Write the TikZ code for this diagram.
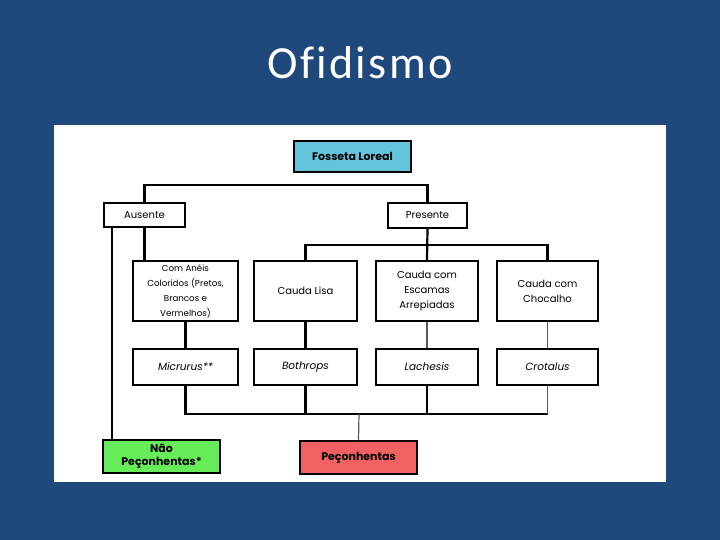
\documentclass[tikz,border=0pt]{standalone}
\usepackage{fontspec}
\usepackage{xcolor}
\newfontfamily\titlefont[LetterSpace=5,Ligatures=NoCommon]{Carlito}
\newfontfamily\boxfont{Poppins}
\definecolor{slideblue}{RGB}{31,73,125}
\definecolor{loreal}{RGB}{100,196,220}
\definecolor{naopec}{RGB}{102,236,88}
\definecolor{pec}{RGB}{240,98,98}

\begin{document}
\begin{tikzpicture}[x=1pt, y=-1pt,
    box/.style={draw, line width=1.8pt, align=center, inner sep=1pt,
        font=\boxfont\fontsize{10}{15}\selectfont},
    genus/.style={box, minimum height=36pt, font=\boxfont\itshape\fontsize{10.5}{15}\selectfont},
    result/.style={box, minimum width=117pt, minimum height=33pt, font=\boxfont\bfseries\fontsize{11}{13.5}\selectfont},
    link/.style={line width=2.2pt},
    thinlink/.style={line width=1.2pt, gray!70!black}]
    % slide and white panel
    \fill[slideblue] (0,0) rectangle (720,540);
    \fill[white] (54,125) rectangle (666,482);
    \node[white, font=\titlefont\fontsize{46}{50}\selectfont] (title) at (360,63) {Ofidismo};

    % top of the key
    \node[result, fill=loreal, minimum height=31pt] (fos) at (352.5,156.5) {Fosseta Loreal};
    \node[box, minimum width=81pt, minimum height=24pt] (aus) at (144.5,215) {Ausente};
    \node[box, minimum width=79pt, minimum height=25pt] (pre) at (427.5,215.5) {Presente};

    % first row
    \node[box, minimum width=105pt, minimum height=60pt, font=\boxfont\fontsize{8.7}{15}\selectfont] (aneis) at (185.5,291) {Com Anéis\\Coloridos (Pretos,\\Brancos e\\Vermelhos)};
    \node[box, minimum width=103pt, minimum height=60pt] (lisa) at (305.5,291) {Cauda Lisa};
    \node[box, minimum width=102pt, minimum height=60pt] (escamas) at (427,291) {Cauda com\\Escamas\\Arrepiadas};
    \node[box, minimum width=101pt, minimum height=60pt] (chocalho) at (547.5,291) {Cauda com\\Chocalho};

    % genera
    \node[genus, minimum width=105pt] (micrurus) at (185.5,367) {Micrurus**};
    \node[genus, minimum width=103pt] (bothrops) at (305.5,367) {Bothrops};
    \node[genus, minimum width=102pt] (lachesis) at (427,367) {Lachesis};
    \node[genus, minimum width=101pt] (crotalus) at (547.5,367) {Crotalus};

    % result
    \node[result, fill=naopec] (nao) at (161.5,456.5) {Não\\Peçonhentas*};
    \node[result, fill=pec] (peco) at (358.5,457.5) {Peçonhentas};

    % connectors
    \draw[link] (aus.north) -- ++(0,-17) -| (pre.north);
    \coordinate (barP) at (427,245);
    \draw[link] (lisa.north) |- (barP) -| (chocalho.north);
    \draw[link] (pre.south) -- (escamas.north);
    \draw[link] (aus.south) -- (aus.south |- aneis.north);
    \draw[link] ([xshift=9pt]aus.south west) -- ([xshift=10pt]nao.north west);
    \draw[link] (aneis.south) -- (micrurus.north);
    \draw[link] (lisa.south) -- (bothrops.north);
    \draw[thinlink] (escamas.south) -- (lachesis.north);
    \draw[thinlink] (chocalho.south) -- (crotalus.north);
    \coordinate (barB) at (359,414);
    \draw[link] (micrurus.south) |- (barB);
    \draw[link] (barB) -- (barB -| crotalus.south);
    \draw[thinlink] (crotalus.south) -- (barB -| crotalus.south);
    \draw[link] (bothrops.south) -- (bothrops.south |- barB);
    \draw[link] (lachesis.south) -- (lachesis.south |- barB);
    \draw[thinlink] (peco.north) -- (barB);
\end{tikzpicture}
\end{document}
